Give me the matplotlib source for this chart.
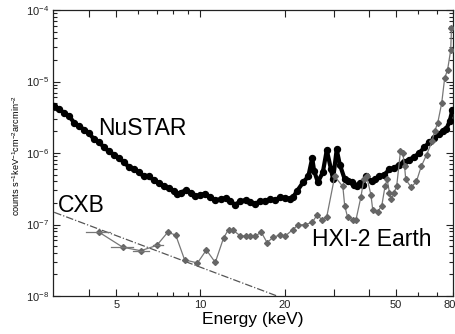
import matplotlib
matplotlib.use("Agg")
import matplotlib.pyplot as plt
import matplotlib.transforms as mtransforms
from matplotlib.ticker import FixedLocator, NullFormatter, LogLocator

plt.rcParams['font.family'] = ['Liberation Sans', 'DejaVu Sans']
plt.rcParams['mathtext.fontset'] = 'custom'
plt.rcParams['mathtext.rm'] = 'Liberation Sans'
plt.rcParams['mathtext.it'] = 'Liberation Sans'

# NuSTAR background spectrum (keV, counts s-1 keV-1 cm-2 arcmin-2)
nustar_e = [3.00, 3.12, 3.25, 3.39, 3.53, 3.68, 3.84, 4.00, 4.16, 4.34, 4.52, 4.71,
            4.90, 5.11, 5.32, 5.55, 5.78, 6.02, 6.27, 6.53, 6.80, 7.09, 7.39, 7.70,
            8.02, 8.25, 8.49, 8.85, 9.22, 9.60, 10.0, 10.4, 10.85, 11.3, 11.8, 12.3,
            12.8, 13.3, 13.9, 14.5, 15.1, 15.7, 16.3, 17.0, 17.7, 18.5, 19.3, 20.1,
            20.9, 21.5, 22.1, 23.3, 24.3, 25.1, 25.5, 26.3, 27.4, 28.3, 29.3, 29.8,
            30.7, 31.5, 32.8, 33.7, 34.7, 35.5, 36.4, 37.2, 38.0, 39.2, 40.9, 42.2,
            43.6, 45.5, 47.4, 49.4, 51.4, 53.6, 55.8, 58.2, 60.6, 63.2, 65.8, 68.6,
            71.4, 73.5, 75.6, 77.9, 79.6]
nustar_v = [4.6e-6, 4.1e-6, 3.66e-6, 3.3e-6, 2.66e-6, 2.35e-6, 2.13e-6, 1.9e-6,
            1.55e-6, 1.42e-6, 1.20e-6, 1.05e-6, 9.5e-7, 8.6e-7, 7.4e-7, 6.4e-7,
            5.9e-7, 5.4e-7, 4.7e-7, 4.75e-7, 4.2e-7, 3.8e-7, 3.4e-7, 3.2e-7,
            2.9e-7, 2.7e-7, 2.8e-7, 3.0e-7, 2.8e-7, 2.5e-7, 2.6e-7, 2.7e-7,
            2.4e-7, 2.2e-7, 2.24e-7, 2.35e-7, 2.1e-7, 1.9e-7, 2.1e-7, 2.2e-7,
            2.04e-7, 1.95e-7, 2.1e-7, 2.15e-7, 2.24e-7, 2.2e-7, 2.4e-7, 2.35e-7,
            2.3e-7, 2.45e-7, 2.9e-7, 3.9e-7, 4.7e-7, 8.5e-7, 5.6e-7, 3.9e-7,
            5.4e-7, 1.1e-6, 5.9e-7, 4.3e-7, 1.12e-6, 6.9e-7, 4.3e-7, 4.0e-7,
            3.9e-7, 3.6e-7, 3.4e-7, 3.8e-7, 3.6e-7, 4.7e-7, 4.0e-7, 4.3e-7,
            4.7e-7, 5.0e-7, 5.9e-7, 6.2e-7, 6.9e-7, 7.5e-7, 8.1e-7, 8.8e-7,
            1.0e-6, 1.2e-6, 1.41e-6, 1.6e-6, 1.82e-6, 2.0e-6, 2.14e-6, 2.8e-6,
            4.0e-6]

# HXI-2 Earth-occultation spectrum
hxi_e = [4.34, 5.28, 6.12, 6.98, 7.64, 8.16, 8.78, 9.76, 10.5, 11.3, 12.1, 12.6, 13.1,
         13.9, 14.5, 15.1, 15.7, 16.5, 17.3, 18.2, 19.3, 20.1, 21.4, 22.3, 23.7, 25.1,
         26.1, 27.2, 28.3, 30.2, 32.3, 32.8, 33.6, 35.0, 36.0, 37.5, 38.4, 39.3, 40.7,
         41.3, 43.0, 44.5, 45.7, 46.5, 47.4, 48.2, 49.2, 50.3, 51.9, 52.9, 53.7, 54.2,
         56.7, 59.2, 61.6, 64.4, 67.3, 68.7, 70.5, 72.9, 74.7, 76.5, 78.5, 79.0]
hxi_v = [7.8e-8, 4.8e-8, 4.3e-8, 5.1e-8, 7.8e-8, 7.1e-8, 3.2e-8, 2.9e-8, 4.4e-8, 2.95e-8,
         6.5e-8, 8.5e-8, 8.3e-8, 6.9e-8, 6.9e-8, 6.9e-8, 6.9e-8, 7.8e-8, 5.6e-8, 6.6e-8,
         7.2e-8, 6.9e-8, 8.5e-8, 9.8e-8, 1.0e-7, 1.07e-7, 1.35e-7, 1.17e-7, 1.29e-7,
         4.7e-7, 3.4e-7, 1.82e-7, 1.26e-7, 1.17e-7, 1.17e-7, 2.45e-7, 4.3e-7, 4.7e-7,
         2.6e-7, 1.62e-7, 1.51e-7, 1.82e-7, 3.4e-7, 4.3e-7, 2.8e-7, 2.24e-7, 2.8e-7,
         3.4e-7, 1.05e-6, 1.0e-6, 6.5e-7, 4.3e-7, 3.3e-7, 4.0e-7, 6.5e-7, 9.5e-7,
         1.45e-6, 2.0e-6, 2.6e-6, 5.0e-6, 1.12e-5, 1.45e-5, 2.75e-5, 5.6e-5]
# horizontal error bars on the first HXI points (lower, upper bin edges)
hxi_lo = [3.90, 4.79, 5.73, 6.75]
hxi_hi = [4.75, 5.73, 6.53, 7.33]

# CXB power law (end points)
cxb_e = [3.0, 18.8]
cxb_v = [1.48e-7, 1.0e-8]

x_major = [4, 5, 10, 20, 30, 40, 50, 80]
x_minor = [6, 7, 8, 9, 60, 70]
x_labels = {5: '5', 10: '10', 20: '20', 50: '50', 80: '80'}

fig = plt.figure(figsize=(4.56, 3.34), dpi=100)
ax = fig.add_axes([53/456, 38/334, 400/456, 286/334])
ax.set_xscale('log')
ax.set_yscale('log')
ax.set_xlim(2.97, 80)
ax.set_ylim(1e-8, 1e-4)

ax.plot(nustar_e, nustar_v, color='black', lw=3.0, marker='o', ms=4.3,
        mec='black', mfc='black', zorder=3, solid_joinstyle='round')

gray = '#666666'
ax.plot(hxi_e, hxi_v, color='#777777', lw=0.9, marker='D', ms=3.0,
        mfc=gray, mec=gray, zorder=4)
for lo, hi, v in zip(hxi_lo, hxi_hi, hxi_v):
    ax.plot([lo, hi], [v, v], color='#777777', lw=0.9, zorder=4)

ax.plot(cxb_e, cxb_v, color='#555555', lw=0.9, dashes=(6, 1.6, 1, 1.6), zorder=2)

ax.text(4.30, 1.8e-6, 'NuSTAR', fontsize=16.5, va='baseline', ha='left')
ax.text(3.10, 1.48e-7, 'CXB', fontsize=16.5, va='baseline', ha='left')
ax.text(25.1, 5.0e-8, 'HXI-2 Earth', fontsize=16.5, va='baseline', ha='left')

ax.xaxis.set_major_locator(FixedLocator(x_major))
ax.xaxis.set_minor_locator(FixedLocator(x_minor))
ax.set_xticklabels([x_labels.get(t, '') for t in x_major])
ax.xaxis.set_minor_formatter(NullFormatter())

ax.yaxis.set_major_locator(LogLocator(base=10, numticks=10))
ax.yaxis.set_minor_locator(LogLocator(base=10, subs=range(2, 10), numticks=20))
ax.yaxis.set_minor_formatter(NullFormatter())

ax.tick_params(which='both', direction='in', top=True, right=True, labelsize=8,
               colors='#222222', labelcolor='#222222')
ax.tick_params(which='major', length=5, width=0.8, pad=3)
ax.tick_params(which='minor', length=3, width=0.8)
last = ax.xaxis.get_major_ticks()[-1]
last.tick1line.set_markersize(3)
last.tick2line.set_markersize(3)
for s in ax.spines.values():
    s.set_linewidth(0.9)
    s.set_color('#222222')

fig.canvas.draw()
lab80 = ax.get_xticklabels()[-1]
lab80.set_transform(lab80.get_transform() +
                    mtransforms.ScaledTranslation(-3/100, 0, fig.dpi_scale_trans))

ax.set_xlabel('Energy (keV)', fontsize=12.5, labelpad=1)
ax.set_ylabel(r'counts s$^{-1}$keV$^{-1}$cm$^{-2}$arcmin$^{-2}$', fontsize=6.6, labelpad=2)
ax.yaxis.set_label_coords(-0.078, 0.49)

fig.savefig('out.png', dpi=100)
